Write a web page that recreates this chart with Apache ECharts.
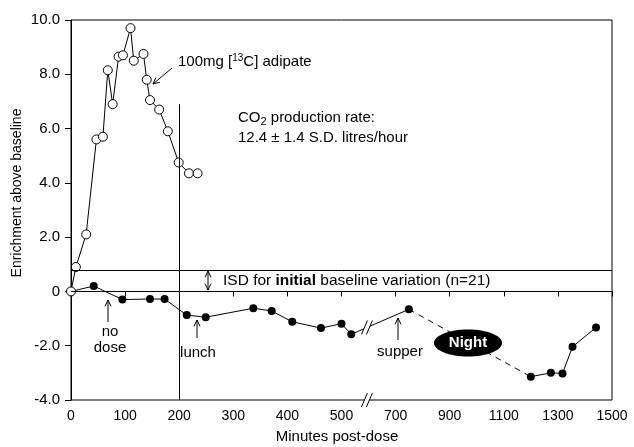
<!DOCTYPE html>
<html><head><meta charset="utf-8">
<script src="https://cdn.jsdelivr.net/npm/echarts@6/dist/echarts.min.js"></script>
<style>html,body{margin:0;padding:0;background:#fff}#c{width:634px;height:447px}</style>
</head><body><div id="c"></div>
<script>
// ---- data (minutes post-dose, enrichment above baseline) ----
const adipateMin = [0, 9, 28, 47, 59, 68, 77, 88, 96, 110, 116, 134, 140, 146, 163, 179, 199, 218, 234];
const adipateEnr = [0, 0.9, 2.1, 5.6, 5.7, 8.15, 6.9, 8.65, 8.7, 9.7, 8.5, 8.75, 7.8, 7.05, 6.7, 5.9, 4.75, 4.35, 4.35];
const dayMin = [0, 42, 95, 146, 173, 214, 249, 337, 371, 409, 462, 500, 518, 749];
const dayEnr = [0, 0.2, -0.3, -0.28, -0.28, -0.87, -0.95, -0.62, -0.72, -1.12, -1.35, -1.19, -1.58, -0.66];
const nightMin = [749, 1200];
const nightEnr = [-0.66, -3.14];
const lateMin = [1200, 1274, 1317, 1354, 1441];
const lateEnr = [-3.14, -3.0, -3.02, -2.04, -1.33];
const xTickLabels = [0, 100, 200, 300, 400, 500, 700, 900, 1100, 1300, 1500];
const yTickLabels = [-4, -2, 0, 2, 4, 6, 8, 10];
const isdValue = 0.78;
const doseLineMin = 200, doseLineTop = 6.9;
const breakMin = 600;

// broken axis: 0-600 at full scale, beyond at half scale
function toAxis(m) { return m < breakMin ? m : 600 + (m - 700) / 2; }
function fromAxis(u) { return u < 550 ? u : 700 + (u - 600) * 2; }
function pts(xs, ys) { return xs.map((x, i) => [toAxis(x), ys[i]]); }

const FONT = "'Liberation Sans', Arial, Helvetica, sans-serif";
const chart = echarts.init(document.getElementById('c'), null, { renderer: 'canvas' });

chart.setOption({
  animation: false,
  backgroundColor: '#fff',
  grid: { left: 71, right: 22, top: 20, bottom: 47, show: true, borderColor: '#000', borderWidth: 1, backgroundColor: 'transparent' },
  xAxis: {
    type: 'value', min: 0, max: 1000, interval: 100,
    axisLine: { lineStyle: { color: '#000', width: 1 } },
    axisTick: { show: true, length: 5, lineStyle: { color: '#000' },
      customValues: xTickLabels.map(toAxis) },
    splitLine: { show: false },
    axisLabel: { color: '#000', fontSize: 14, fontFamily: FONT, margin: 9,
      customValues: xTickLabels.map(toAxis),
      formatter: v => String(Math.round(fromAxis(v))) }
  },
  yAxis: {
    type: 'value', min: -4, max: 10, interval: 2,
    axisLine: { show: true, lineStyle: { color: '#000', width: 1 } },
    axisTick: { show: true, length: 6, lineStyle: { color: '#000' } },
    splitLine: { show: false },
    axisLabel: { color: '#000', fontSize: 15, fontFamily: FONT, margin: 11,
      formatter: v => (yTickLabels.indexOf(v) < 0 ? '' : (v === 0 ? '0' : v.toFixed(1))) }
  },
  series: [
    {
      type: 'line', data: pts(dayMin, dayEnr), symbol: 'circle', symbolSize: 8,
      itemStyle: { color: '#000' }, lineStyle: { color: '#000', width: 1 }, z: 3,
      markLine: {
        silent: true, symbol: 'none', animation: false,
        lineStyle: { color: '#000', width: 1, type: 'solid' }, label: { show: false },
        data: [
          { yAxis: 0 },
          { yAxis: isdValue },
          [{ coord: [toAxis(doseLineMin), -4] }, { coord: [toAxis(doseLineMin), doseLineTop] }]
        ]
      }
    },
    {
      type: 'line', data: pts(nightMin, nightEnr), showSymbol: false, symbol: 'none',
      lineStyle: { color: '#000', width: 1, type: [6, 5] }, z: 2
    },
    {
      type: 'line', data: pts(lateMin, lateEnr), symbol: 'circle', symbolSize: 8,
      itemStyle: { color: '#000' }, lineStyle: { color: '#000', width: 1 }, z: 3
    },
    {
      type: 'line', data: pts(adipateMin, adipateEnr), symbol: 'circle', symbolSize: 9,
      itemStyle: { color: '#fff', borderColor: '#000', borderWidth: 1 },
      lineStyle: { color: '#000', width: 1 }, z: 4
    }
  ]
});

// ---- annotations ----
function arrowHead(x1, y1, x2, y2, len) {
  const a = Math.atan2(y2 - y1, x2 - x1), s = 0.45;
  return [[x2 - len * Math.cos(a - s), y2 - len * Math.sin(a - s)], [x2, y2],
          [x2 - len * Math.cos(a + s), y2 - len * Math.sin(a + s)]];
}
function arrow(x1, y1, x2, y2) {
  return [
    { type: 'line', shape: { x1, y1, x2, y2 }, style: { stroke: '#000', lineWidth: 1 }, z: 20 },
    { type: 'polyline', shape: { points: arrowHead(x1, y1, x2, y2, 7) }, style: { stroke: '#000', lineWidth: 1, fill: null }, z: 20 }
  ];
}
function txt(x, y, text, opts) {
  return Object.assign({ type: 'text', x, y, z: 20,
    style: Object.assign({ text, fill: '#000', font: '15px ' + FONT, align: 'center', verticalAlign: 'middle' }, opts || {}) });
}
function breakMark(p, z) {
  const w = 3, h = 7, g = 2.5;
  return [
    { type: 'polygon', shape: { points: [[p[0] - g - w, p[1] + h], [p[0] - g + w, p[1] - h], [p[0] + g + w, p[1] - h], [p[0] + g - w, p[1] + h]] },
      style: { fill: '#fff', stroke: null }, z: z },
    { type: 'line', shape: { x1: p[0] - g - w, y1: p[1] + h, x2: p[0] - g + w, y2: p[1] - h }, style: { stroke: '#000', lineWidth: 1 }, z: z + 1 },
    { type: 'line', shape: { x1: p[0] + g - w, y1: p[1] + h, x2: p[0] + g + w, y2: p[1] - h }, style: { stroke: '#000', lineWidth: 1 }, z: z + 1 }
  ];
}

const uBreak = (toAxis(500) + toAxis(700)) / 2 - 3;
const axisBreak = chart.convertToPixel({ gridIndex: 0 }, [uBreak, -4]);
const pA = chart.convertToPixel({ gridIndex: 0 }, [toAxis(dayMin[dayMin.length - 2]), dayEnr[dayEnr.length - 2]]);
const pB = chart.convertToPixel({ gridIndex: 0 }, [toAxis(dayMin[dayMin.length - 1]), dayEnr[dayEnr.length - 1]]);
const bx = axisBreak[0];
const lineBreak = [bx, pA[1] + (pB[1] - pA[1]) * (bx - pA[0]) / (pB[0] - pA[0])];

const g = [];
g.push(...breakMark(axisBreak, 30));
g.push(...breakMark(lineBreak, 30));
// adipate label
g.push(txt(178, 62, '{a|100mg [}{s|13}{a|C] adipate}', { align: 'left',
  rich: { a: { fontSize: 15, fontFamily: FONT, lineHeight: 18, fill: '#000' }, s: { fontSize: 10, fontFamily: FONT, lineHeight: 10, verticalAlign: 'top', fill: '#000' } } }));
g.push(...arrow(172, 68, 153, 84));
// CO2 text
g.push(txt(238, 118, '{a|CO}{b|2}{a| production rate:}', { align: 'left',
  rich: { a: { fontSize: 15, fontFamily: FONT, lineHeight: 18, fill: '#000' }, b: { fontSize: 11, fontFamily: FONT, lineHeight: 10, verticalAlign: 'bottom', fill: '#000' } } }));
g.push(txt(238, 138, '12.4 \u00b1 1.4 S.D. litres/hour', { align: 'left' }));
// ISD
g.push(txt(223, 281, '{a|ISD for }{b|initial}{a| baseline variation (n=21)}', { align: 'left',
  rich: { a: { fontSize: 15.5, fontFamily: FONT, fill: '#000' }, b: { fontSize: 15.5, fontFamily: FONT, fontWeight: 'bold', fill: '#000' } } }));
g.push(...arrow(208, 281, 208, 271));
g.push(...arrow(208, 281, 208, 290));
// no dose
g.push(txt(110, 332, 'no'));
g.push(txt(110, 348, 'dose'));
g.push(...arrow(108, 322, 108, 300));
// lunch
g.push(txt(198, 353, 'lunch'));
g.push(...arrow(197, 338, 197, 320));
// supper
g.push(txt(400, 352, 'supper'));
g.push(...arrow(398, 340, 398, 318));
// Night
g.push({ type: 'ellipse', shape: { cx: 468, cy: 343, rx: 34, ry: 13.5 }, style: { fill: '#000' }, z: 20 });
g.push(txt(468, 343, 'Night', { fill: '#fff', font: 'bold 15px ' + FONT }));
// axis titles
g.push(txt(17, 193, 'Enrichment above baseline', { font: '14px ' + FONT }));
g[g.length - 1].rotation = Math.PI / 2;
g.push(txt(337, 437, 'Minutes post-dose', { font: '15px ' + FONT }));

chart.setOption({ graphic: g });
</script>
</body></html>
